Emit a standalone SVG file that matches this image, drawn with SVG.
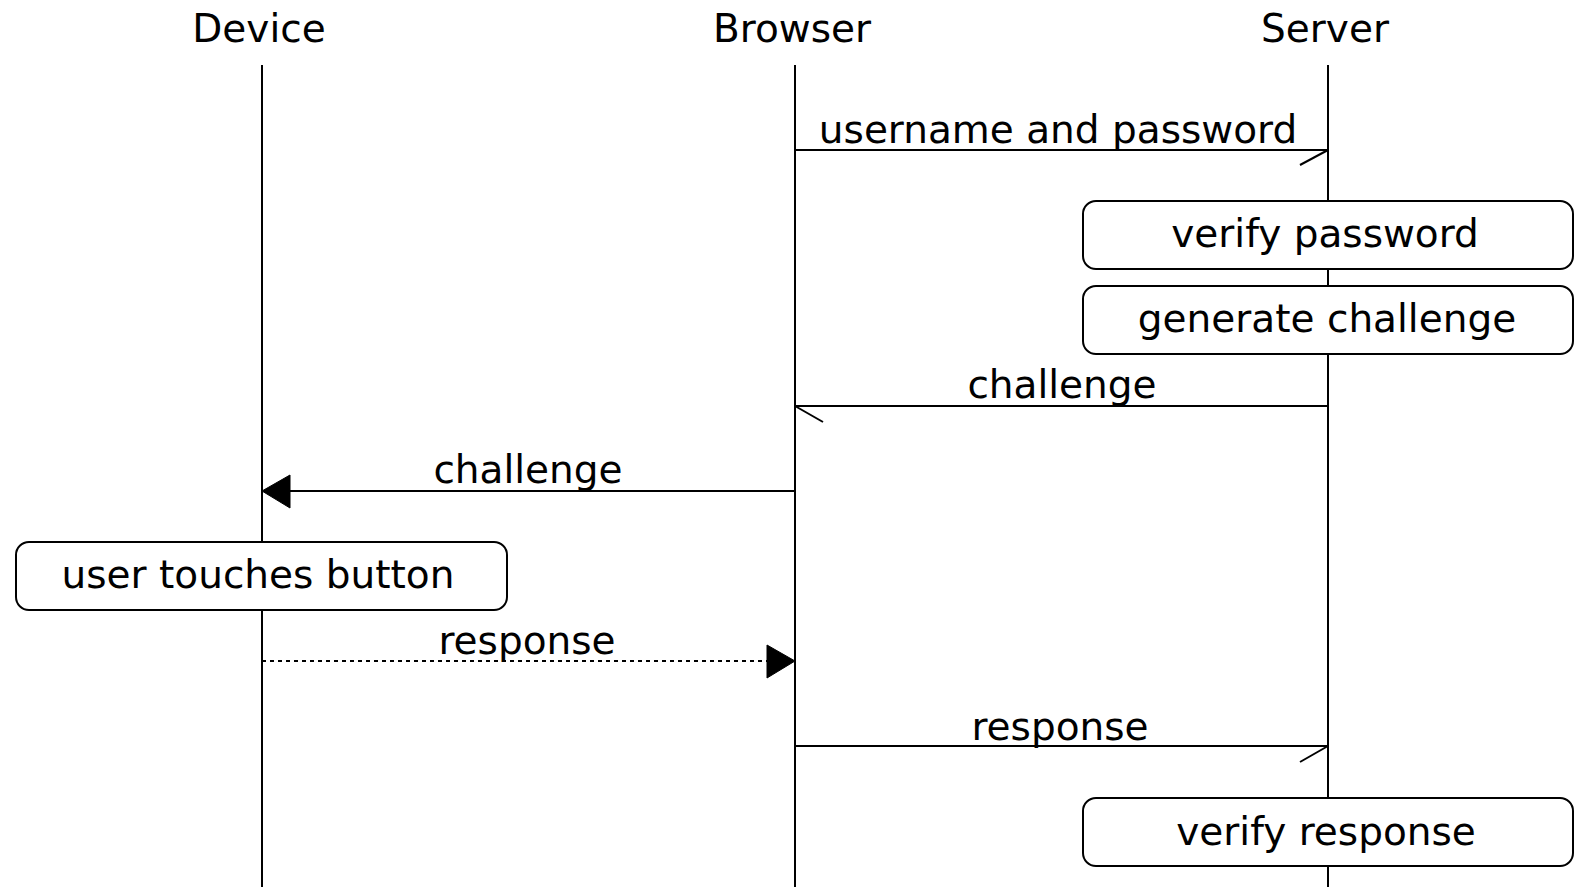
<svg xmlns="http://www.w3.org/2000/svg" width="1586" height="887" viewBox="0 0 1586 887">
<style>
text{font-family:"DejaVu Sans","Liberation Sans",sans-serif;font-size:39px;fill:#000;text-anchor:middle}
.life{stroke:#000;stroke-width:2}
.msg{stroke:#000;stroke-width:2;fill:none}
.dot{stroke-dasharray:4 4}
.box{fill:#fff;stroke:#000;stroke-width:2}
.head{fill:#000;stroke:#000;stroke-width:1}
</style>
<rect width="1586" height="887" fill="#fff"/>
<g id="device"><text x="259" y="42" font-size="38">Device</text><line class="life" x1="262" y1="65" x2="262" y2="887"/></g>
<g id="browser"><text x="792" y="42" font-size="38">Browser</text><line class="life" x1="795" y1="65" x2="795" y2="887"/></g>
<g id="server"><text x="1325" y="42" font-size="38">Server</text><line class="life" x1="1328" y1="65" x2="1328" y2="887"/></g>
<g id="connectors">
<g id="m1"><line class="msg" x1="795" y1="150" x2="1328" y2="150"/><line class="msg" x1="1328" y1="150" x2="1300" y2="165"/><text x="1058" y="143">username and password</text></g>
<g id="m2"><line class="msg" x1="1328" y1="406" x2="795" y2="406"/><line class="msg" x1="795" y1="406" x2="823" y2="422"/><text x="1062" y="398">challenge</text></g>
<g id="m3"><line class="msg" x1="795" y1="491" x2="276" y2="491"/><polygon class="head" points="262,491 290,475 290,508"/><text x="528" y="483">challenge</text></g>
<g id="m4"><line class="msg dot" x1="262" y1="661" x2="781" y2="661"/><polygon class="head" points="795,661 767,645 767,678"/><text x="527" y="654">response</text></g>
<g id="m5"><line class="msg" x1="795" y1="746" x2="1328" y2="746"/><line class="msg" x1="1328" y1="746" x2="1300" y2="762"/><text x="1060" y="740">response</text></g>
</g>
<g id="verify-password"><rect class="box" x="1083" y="201" width="490" height="68" rx="13"/><text x="1325" y="247">verify password</text></g>
<g id="generate-challenge"><rect class="box" x="1083" y="286" width="490" height="68" rx="13"/><text x="1327" y="332">generate challenge</text></g>
<g id="user-touches-button"><rect class="box" x="16" y="542" width="491" height="68" rx="13"/><text x="258" y="588">user touches button</text></g>
<g id="verify-response"><rect class="box" x="1083" y="798" width="490" height="68" rx="13"/><text x="1326" y="845">verify response</text></g>
</svg>
